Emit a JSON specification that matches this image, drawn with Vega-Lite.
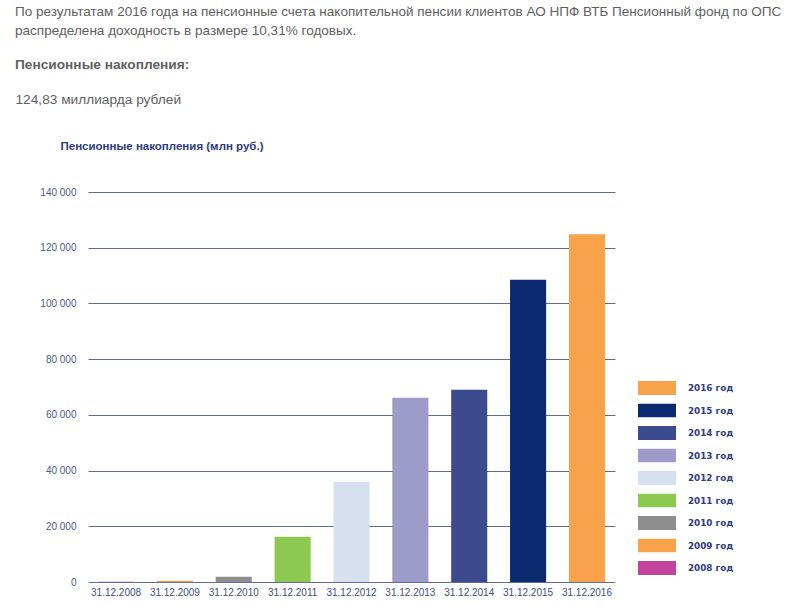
{
  "$schema": "https://vega.github.io/schema/vega-lite/v6.json",
  "autosize": {"type": "none"},
  "padding": {"left": 88, "top": 192, "right": 185, "bottom": 24},
  "width": 527,
  "height": 390,
  "background": "white",
  "title": {
    "text": ["По результатам 2016 года на пенсионные счета накопительной пенсии клиентов АО НПФ ВТБ Пенсионный фонд по ОПС", "распределена доходность в размере 10,31% годовых."],
    "subtitle": "Пенсионные накопления:",
    "anchor": "start",
    "frame": "group",
    "orient": "top",
    "dx": -73,
    "offset": 20,
    "font": "Liberation Sans",
    "fontSize": 13.55,
    "fontWeight": "normal",
    "color": "#5f5f5f",
    "lineHeight": 19,
    "subtitleFont": "Liberation Sans",
    "subtitleFontSize": 13.7,
    "subtitleFontWeight": "bold",
    "subtitleColor": "#5f5f5f",
    "subtitlePadding": 21
  },
  "data": {
    "values": [
      {"date": "31.12.2008", "year": "2008 год", "value": 80},
      {"date": "31.12.2009", "year": "2009 год", "value": 450},
      {"date": "31.12.2010", "year": "2010 год", "value": 1900},
      {"date": "31.12.2011", "year": "2011 год", "value": 16200},
      {"date": "31.12.2012", "year": "2012 год", "value": 36000},
      {"date": "31.12.2013", "year": "2013 год", "value": 66100},
      {"date": "31.12.2014", "year": "2014 год", "value": 69000},
      {"date": "31.12.2015", "year": "2015 год", "value": 108500},
      {"date": "31.12.2016", "year": "2016 год", "value": 124830}
    ]
  },
  "layer": [
    {
      "mark": {"type": "bar"},
      "encoding": {
        "x": {
          "field": "date", "type": "nominal", "sort": null,
          "scale": {"paddingInner": 0.387, "paddingOuter": 0.17},
          "axis": {
            "orient": "bottom", "title": null, "labelAngle": 0, "ticks": false, "domain": false,
            "labelFont": "Liberation Sans", "labelFontSize": 10, "labelColor": "#3e4f86", "labelPadding": 5
          }
        },
        "y": {
          "field": "value", "type": "quantitative",
          "scale": {"domain": [0, 140000]},
          "axis": {
            "values": [0, 20000, 40000, 60000, 80000, 100000, 120000, 140000],
            "labelExpr": "replace(format(datum.value, ','), ',', ' ')",
            "domain": false, "ticks": false, "grid": true, "gridColor": "#5d6c9a", "gridWidth": 1,
            "labelFont": "Liberation Sans", "labelFontSize": 10, "labelColor": "#4a5a8c", "labelPadding": 12,
            "title": "124,83 миллиарда рублей",
            "titleAngle": 0, "titleAlign": "left", "titleBaseline": "middle",
            "titleX": -73, "titleY": -93,
            "titleFont": "Liberation Sans", "titleFontSize": 13.7, "titleFontWeight": "normal", "titleColor": "#5f5f5f"
          }
        },
        "color": {
          "field": "year", "type": "nominal",
          "scale": {
            "domain": ["2016 год", "2015 год", "2014 год", "2013 год", "2012 год", "2011 год", "2010 год", "2009 год", "2008 год"],
            "range": ["#f6a34b", "#0c2a6f", "#3b4b8d", "#9d9bc7", "#d6e0ef", "#8dc851", "#8e8e8e", "#f6a34b", "#c4449b"]
          },
          "legend": {
            "orient": "none", "legendX": 550, "legendY": 189, "title": null, "padding": 0,
            "symbolType": "M-1,-0.37H1V0.37H-1Z", "symbolSize": 1444, "symbolStrokeWidth": 0, "symbolOpacity": 1,
            "clipHeight": 14, "rowPadding": 8.5, "labelOffset": 12,
            "labelFont": "DejaVu Sans", "labelFontSize": 8.8, "labelFontWeight": "bold", "labelColor": "#2e3d7c"
          }
        }
      }
    },
    {
      "mark": {"type": "bar", "opacity": 0},
      "encoding": {
        "x": {
          "field": "date", "type": "nominal", "sort": null,
          "axis": {
            "orient": "top", "labels": false, "ticks": false, "domain": false, "grid": false,
            "title": "Пенсионные накопления (млн руб.)",
            "titleAnchor": "start", "titleAlign": "left", "titleBaseline": "middle",
            "titleX": -28, "titleY": -46,
            "titleFont": "Liberation Sans", "titleFontSize": 11.5, "titleFontWeight": "bold", "titleColor": "#2b3a78"
          }
        },
        "y": {"field": "value", "type": "quantitative"}
      }
    }
  ],
  "resolve": {"axis": {"x": "independent"}},
  "config": {"view": {"stroke": null}}
}
